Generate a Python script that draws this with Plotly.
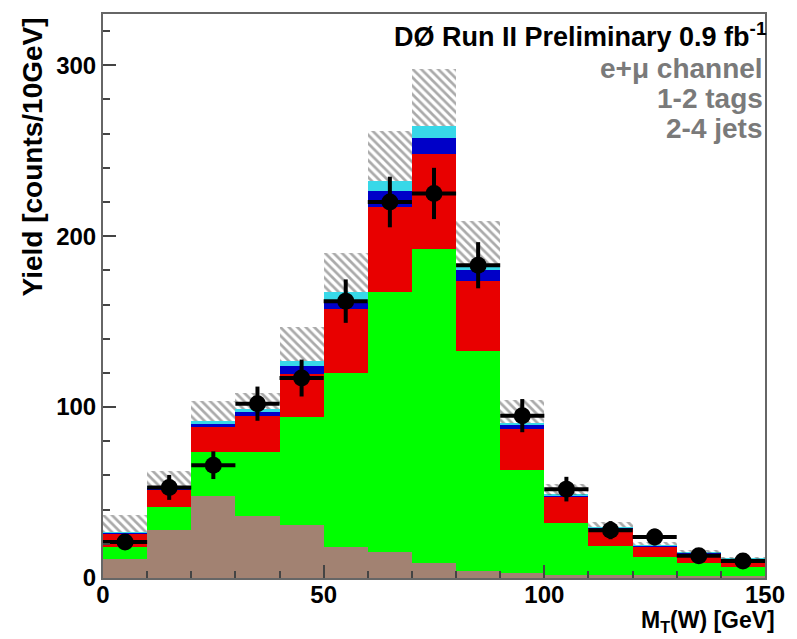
import numpy as np
import plotly.graph_objects as go

# ---- data ----
bin_centers = [5, 15, 25, 35, 45, 55, 65, 75, 85, 95, 105, 115, 125, 135, 145]
bin_width = 10
brown = [11, 28, 48, 36, 31, 18, 15, 9, 4, 3, 2, 2, 1.5, 1, 1]
green = [7, 13.5, 25.5, 38, 63, 102, 152.5, 183.5, 129, 60, 30, 16.5, 11, 7.6, 5.2]
red = [8, 10, 14.8, 20.9, 25.6, 37.6, 49.3, 55.5, 41, 24.4, 15.5, 10.5, 6.2, 5.9, 4.7]
blue = [0.6, 1.5, 2, 2.5, 4.5, 3.5, 9.7, 9.6, 6, 2, 0.8, 0.5, 0.3, 0.2, 0.2]
cyan = [0.3, 0.8, 1.5, 1.5, 3, 6, 6, 7, 2, 1.5, 0.5, 0.3, 0.2, 0.1, 0.1]
syst_unc = [10, 9, 12, 9.5, 20, 23, 29, 33, 27, 13, 6, 3, 2, 1.5, 1]
data = [21, 53, 66, 102, 117, 162, 220, 225, 183, 95, 52, 28, 24, 13, 10]
data_err = [4.6, 7.3, 8.1, 10, 10.8, 12.7, 14.8, 15, 13.5, 9.7, 7.2, 5.3, 4.9, 3.6, 3.2]

x_ticks = [0, 50, 100, 150]
y_ticks = [0, 100, 200, 300]

components = [
    ("brown", brown, "#a28272"),
    ("green", green, "#00ff00"),
    ("red", red, "#e80000"),
    ("blue", blue, "#0000c8"),
    ("cyan", cyan, "#38d8e8"),
]

fig = go.Figure()
base = np.zeros(len(bin_centers))
for name, vals, col in components:
    fig.add_trace(go.Bar(
        x=bin_centers, y=vals, base=base.copy(), width=bin_width,
        marker=dict(color=col, line=dict(width=0)), name=name, showlegend=False))
    base = base + np.array(vals)

# hatched uncertainty band above the total
fig.add_trace(go.Bar(
    x=bin_centers, y=syst_unc, base=base.copy(), width=bin_width,
    marker=dict(color="rgba(255,255,255,0)", line=dict(width=0),
                pattern=dict(shape="\\", fgcolor="#555555", bgcolor="rgba(255,255,255,0)",
                             size=6, solidity=0.45)),
    showlegend=False))

# data points
fig.add_trace(go.Scatter(
    x=bin_centers, y=data, mode="markers",
    marker=dict(color="black", size=17, symbol="circle"),
    error_y=dict(type="data", array=data_err, color="black", thickness=4, width=0),
    error_x=dict(type="constant", value=bin_width / 2, color="black", thickness=4, width=0),
    showlegend=False))

font_family = "Liberation Sans, Arial, sans-serif"

fig.update_layout(
    width=797, height=639,
    margin=dict(l=103, r=22, t=12, b=61),
    paper_bgcolor="white", plot_bgcolor="white",
    barmode="overlay", bargap=0,
    font=dict(family=font_family, size=24, color="black"),
    xaxis=dict(range=[0, 150], tickvals=x_ticks, ticks="inside", ticklen=13, tickwidth=2,
               tickcolor="#444", showgrid=False, zeroline=False,
               showline=True, linecolor="#666", linewidth=2, mirror=True,
               ticklabelstandoff=-6,
               minor=dict(dtick=10, ticks="inside", ticklen=7, tickwidth=2, tickcolor="#444"),
               tickfont=dict(size=24, color="black", weight="bold")),
    yaxis=dict(range=[0, 330], tickvals=y_ticks, ticks="inside", ticklen=13, tickwidth=2,
               tickcolor="#444", showgrid=False, zeroline=False,
               showline=True, linecolor="#666", linewidth=2, mirror=True,
               minor=dict(dtick=20, ticks="inside", ticklen=7, tickwidth=2, tickcolor="#444"),
               tickfont=dict(size=24, color="black", weight="bold")),
)

annotations = [
    dict(text="Yield [counts/10GeV]", xref="paper", yref="paper", x=-0.106, y=0.998,
         xanchor="center", yanchor="top", textangle=-90, showarrow=False,
         font=dict(size=28, color="black", weight="bold")),
    dict(text="M<sub>T</sub>(W) [GeV]", xref="paper", yref="paper", x=1.018, y=-0.078,
         xanchor="right", yanchor="middle", showarrow=False,
         font=dict(size=23, color="black", weight="bold")),
    dict(text="DØ Run II Preliminary 0.9 fb<sup>-1</sup>", xref="paper", yref="paper",
         x=1.004, y=0.963, xanchor="right", yanchor="middle", showarrow=False,
         font=dict(size=27, color="black", weight="bold")),
    dict(text="e+μ channel", xref="paper", yref="paper", x=1.0, y=0.903,
         xanchor="right", yanchor="middle", showarrow=False,
         font=dict(size=28, color="#7a7a7a", weight="bold")),
    dict(text="1-2 tags", xref="paper", yref="paper", x=1.0, y=0.850,
         xanchor="right", yanchor="middle", showarrow=False,
         font=dict(size=28, color="#7a7a7a", weight="bold")),
    dict(text="2-4 jets", xref="paper", yref="paper", x=1.0, y=0.797,
         xanchor="right", yanchor="middle", showarrow=False,
         font=dict(size=28, color="#7a7a7a", weight="bold")),
]
fig.update_layout(annotations=annotations)

fig.write_html("out.html")
